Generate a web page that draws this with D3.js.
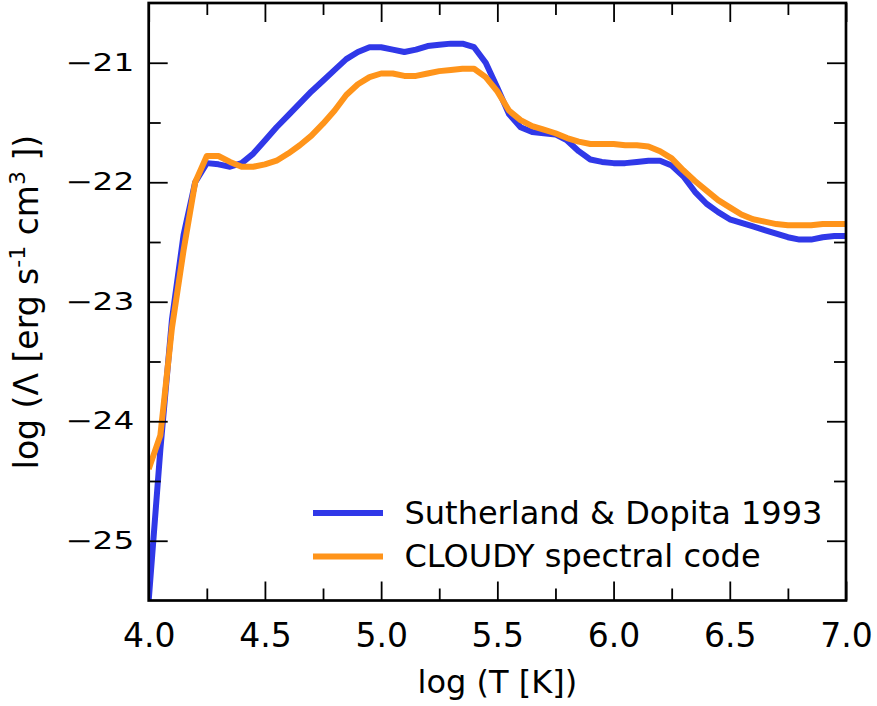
<!DOCTYPE html>
<html>
<head>
<meta charset="utf-8">
<script src="https://cdnjs.cloudflare.com/ajax/libs/d3/7.8.5/d3.min.js"></script>
<style>
  body { margin: 0; background: #fff; }
  svg { display: block; }
  text { font-family: "DejaVu Sans", sans-serif; fill: #000; }
</style>
</head>
<body>
<script>
// log T grid (0.05 dex) and the two cooling curves
var logT = [4.00, 4.05, 4.10, 4.15, 4.20, 4.25, 4.30, 4.35, 4.40, 4.45,
            4.50, 4.55, 4.60, 4.65, 4.70, 4.75, 4.80, 4.85, 4.90, 4.95,
            5.00, 5.05, 5.10, 5.15, 5.20, 5.25, 5.30, 5.35, 5.40, 5.45,
            5.50, 5.55, 5.60, 5.65, 5.70, 5.75, 5.80, 5.85, 5.90, 5.95,
            6.00, 6.05, 6.10, 6.15, 6.20, 6.25, 6.30, 6.35, 6.40, 6.45,
            6.50, 6.55, 6.60, 6.65, 6.70, 6.75, 6.80, 6.85, 6.90, 6.95, 7.00];

var sd93 = [-25.50, -24.24, -23.15, -22.44, -22.00, -21.84, -21.85, -21.87, -21.84, -21.76,
            -21.65, -21.54, -21.44, -21.34, -21.24, -21.15, -21.06, -20.97, -20.91, -20.87,
            -20.87, -20.89, -20.91, -20.89, -20.86, -20.85, -20.84, -20.84, -20.87, -21.00,
            -21.21, -21.43, -21.54, -21.58, -21.59, -21.60, -21.65, -21.74, -21.81, -21.83,
            -21.84, -21.84, -21.83, -21.82, -21.82, -21.86, -21.95, -22.08, -22.18, -22.25,
            -22.31, -22.34, -22.37, -22.40, -22.43, -22.46, -22.48, -22.48, -22.46, -22.45, -22.45];

var cloudy = [-24.40, -24.12, -23.22, -22.57, -22.00, -21.78, -21.78, -21.83, -21.87, -21.87,
              -21.85, -21.82, -21.76, -21.69, -21.61, -21.51, -21.40, -21.27, -21.18, -21.12,
              -21.09, -21.09, -21.11, -21.11, -21.09, -21.07, -21.06, -21.05, -21.05, -21.12,
              -21.24, -21.40, -21.48, -21.53, -21.56, -21.59, -21.63, -21.66, -21.68, -21.68,
              -21.68, -21.69, -21.69, -21.70, -21.74, -21.80, -21.90, -21.99, -22.07, -22.15,
              -22.21, -22.27, -22.31, -22.33, -22.35, -22.36, -22.36, -22.36, -22.35, -22.35, -22.35];

var seriesNames = ["Sutherland & Dopita 1993", "CLOUDY spectral code"];
var seriesColors = ["#3038e8", "#ff941a"];

var xMajor = [4.0, 4.5, 5.0, 5.5, 6.0, 6.5, 7.0];
var xMinor = [4.25, 4.75, 5.25, 5.75, 6.25, 6.75];
var yMajor = [-21, -22, -23, -24, -25];
var yMinor = [-21.5, -22.5, -23.5, -24.5];

var W = 877, H = 706;
var pL = 148.7, pR = 846, pT = 3, pB = 600.5;   // plot box edges

var svg = d3.select("body").append("svg").attr("width", W).attr("height", H);

var x = d3.scaleLinear().domain([4, 7]).range([pL, pR]);
var y = d3.scaleLinear().domain([-25.5, -20.5]).range([pB, pT]);

svg.append("clipPath").attr("id", "plotclip")
  .append("rect").attr("x", pL).attr("y", pT).attr("width", pR - pL).attr("height", pB - pT);

// curves (orange drawn last, on top)
var line = d3.line().x(function(d) { return x(d[0]); }).y(function(d) { return y(d[1]); });
[sd93, cloudy].forEach(function(vals, i) {
  svg.append("path")
    .datum(logT.map(function(t, j) { return [t, vals[j]]; }))
    .attr("clip-path", "url(#plotclip)")
    .attr("fill", "none")
    .attr("stroke", seriesColors[i])
    .attr("stroke-width", 6)
    .attr("stroke-linejoin", "round")
    .attr("d", line);
});

// ticks on all four sides, pointing inward
function ticks(axis, transform, values, len, fmt) {
  var g = svg.append("g").attr("transform", transform)
    .call(axis.tickValues(values).tickSizeInner(-len).tickSizeOuter(0).tickFormat(fmt || ""));
  g.select(".domain").remove();
  g.selectAll(".tick line").attr("stroke", "#000").attr("stroke-width", 1.8);
  return g;
}
var fmtX = d3.format(".1f"), fmtY = d3.format("d");

var gx = ticks(d3.axisBottom(x), "translate(0," + pB + ")", xMajor, 19, fmtX);
gx.selectAll("text").attr("y", 46.5).attr("dy", null).style("font-size", "33px").attr("fill", "#000");
ticks(d3.axisBottom(x), "translate(0," + pB + ")", xMinor, 12);
ticks(d3.axisTop(x), "translate(0," + pT + ")", xMajor, 19);
ticks(d3.axisTop(x), "translate(0," + pT + ")", xMinor, 12);

var gy = ticks(d3.axisLeft(y), "translate(" + pL + ",0)", yMajor, 19, fmtY);
gy.selectAll("text").attr("x", -14.5).attr("dy", "0.32em").style("font-size", "24px")
  .attr("textLength", 69).attr("lengthAdjust", "spacingAndGlyphs").attr("fill", "#000");
ticks(d3.axisLeft(y), "translate(" + pL + ",0)", yMinor, 12);
ticks(d3.axisRight(y), "translate(" + pR + ",0)", yMajor, 19);
ticks(d3.axisRight(y), "translate(" + pR + ",0)", yMinor, 12);

// frame
svg.append("rect")
  .attr("x", pL).attr("y", pT).attr("width", pR - pL).attr("height", pB - pT)
  .attr("fill", "none").attr("stroke", "#000").attr("stroke-width", 2.7);

// axis labels
svg.append("text").attr("x", (pL + pR) / 2).attr("y", 693)
  .attr("text-anchor", "middle").style("font-size", "32px").text("log (T [K])");

var yl = svg.append("text")
  .attr("transform", "translate(38,302) rotate(-90)")
  .attr("text-anchor", "middle").style("font-size", "33px");
yl.append("tspan").text("log (\u039b [erg s");
yl.append("tspan").attr("dy", -13).style("font-size", "22px").text("-1");
yl.append("tspan").attr("dy", 13).text(" cm");
yl.append("tspan").attr("dy", -13).style("font-size", "22px").text("3");
yl.append("tspan").attr("dy", 13).text(" ])");

// legend
var legend = svg.append("g");
seriesNames.forEach(function(name, i) {
  var ly = 513 + i * 43.5;
  legend.append("line")
    .attr("x1", 316).attr("x2", 380).attr("y1", ly).attr("y2", ly)
    .attr("stroke", seriesColors[i]).attr("stroke-width", 6).attr("stroke-linecap", "square");
  legend.append("text").attr("x", 404.5).attr("y", ly + 10.5)
    .style("font-size", "32px").text(name);
});
</script>
</body>
</html>
